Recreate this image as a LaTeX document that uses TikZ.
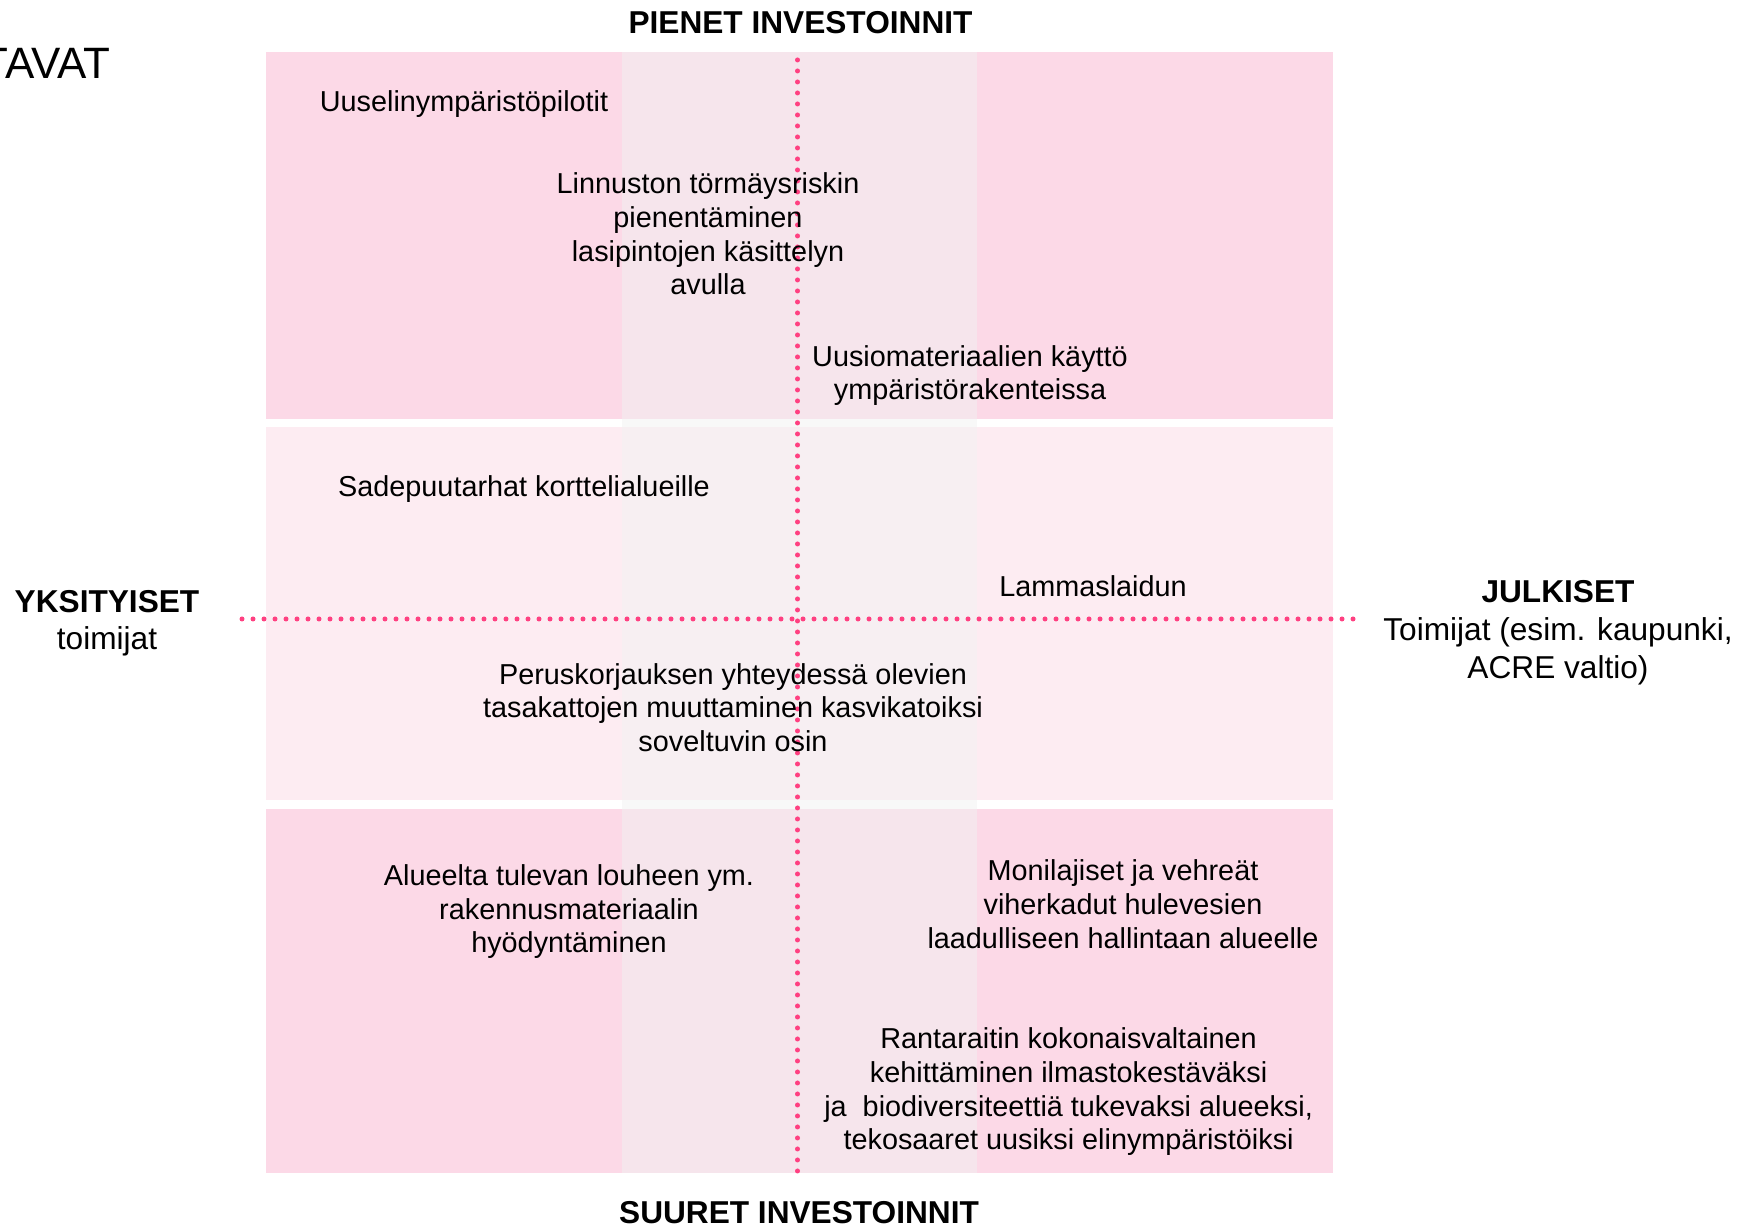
\documentclass[tikz,border=0pt]{standalone}
\usepackage{fontspec}
\setmainfont{Liberation Sans}
\usetikzlibrary{calc}

\definecolor{bandpink}{RGB}{252,217,231}
\definecolor{midpink}{RGB}{253,236,242}
\definecolor{colgray}{RGB}{242,242,242}
\definecolor{dotpink}{RGB}{255,64,129}

\tikzset{
    item/.style={align=center, inner sep=0pt, font=\fontsize{8.2}{9.6}\selectfont},
    sidelabel/.style={align=center, inner sep=0pt, font=\fontsize{9}{10.8}\selectfont},
    dotline/.style={dotpink, line width=0.05cm, line cap=round, dash pattern=on 0pt off 0.11cm}
}

\begin{document}
\begin{tikzpicture}
    % Page size of the reference
    \useasboundingbox (0,0) rectangle (17.49,12.25);

    % Corners of the bands
    \coordinate (TL) at (2.655, 11.726);
    \coordinate (BR) at (13.33, 0.516);

    % Draw the three bands
    \fill[bandpink] (TL) rectangle (13.33, 8.055);
    \fill[midpink] (2.655, 7.98) rectangle (13.33, 4.25);
    \fill[bandpink] (2.655, 4.163) rectangle (BR);

    % Lighter column in the middle
    \fill[colgray, fill opacity=0.5] (6.22, 11.726) rectangle (9.77, 0.516);

    % End points of the dotted axes
    \coordinate (N) at (7.975, 11.65);
    \coordinate (S) at (7.975, 0.50);
    \coordinate (W) at (2.42, 6.06);
    \coordinate (E) at (13.57, 6.06);

    % Draw the dotted axes
    \draw[dotline] (N) -- (S);
    \draw[dotline] (W) -- (E);

    % Axis labels (base = last line)
    \node[anchor=base east, inner sep=0pt, font=\fontsize{12.5}{15}\selectfont] (tavat) at (1.11, 11.467) {TAVAT};
    \node[sidelabel, anchor=base, font=\fontsize{9}{10.8}\selectfont\bfseries] (pienet) at (8.005, 11.917) {PIENET INVESTOINNIT};
    \node[sidelabel, anchor=base, font=\fontsize{9}{10.8}\selectfont\bfseries] (suuret) at (7.99, 0.017) {SUURET INVESTOINNIT};
    \node[sidelabel, anchor=base] (yksit) at (1.07, 5.75) {\textbf{YKSITYISET}\\toimijat};
    \node[sidelabel, anchor=base] (julk) at (15.58, 5.467) {\textbf{JULKISET}\\Toimijat (esim. kaupunki,\\ACRE valtio)};

    % Measures in the quadrants
    \node[item, anchor=base] (pilotit) at (4.64, 11.133) {Uuselinympäristöpilotit};
    \node[item, anchor=base] (linnut) at (7.08, 9.30) {Linnuston törmäysriskin\\pienentäminen\\lasipintojen käsittelyn\\avulla};
    \node[item, anchor=base] (uusio) at (9.70, 8.25) {Uusiomateriaalien käyttö\\ympäristörakenteissa};
    \node[item, anchor=base] (sade) at (5.24, 7.283) {Sadepuutarhat kortteli­alueille};
    \node[item, anchor=base] (lammas) at (10.93, 6.283) {Lammaslaidun};
    \node[item, anchor=base] (katot) at (7.33, 4.733) {Peruskorjauksen yhteydessä olevien\\tasakattojen muuttaminen kasvikatoiksi\\soveltuvin osin};
    \node[item, anchor=base] (louhe) at (5.69, 2.72) {Alueelta tulevan louheen ym.\\rakennusmateriaalin\\hyödyntäminen};
    \node[item, anchor=base] (viher) at (11.23, 2.767) {Monilajiset ja vehreät\\viherkadut hulevesien\\laadulliseen hallintaan alueelle};
    \node[item, anchor=base] (ranta) at (10.686, 0.75) {Rantaraitin kokonaisvaltainen\\kehittäminen ilmastokestäväksi\\ja~ biodiversiteettiä tukevaksi alueeksi,\\tekosaaret uusiksi elinympäristöiksi};
\end{tikzpicture}
\end{document}
